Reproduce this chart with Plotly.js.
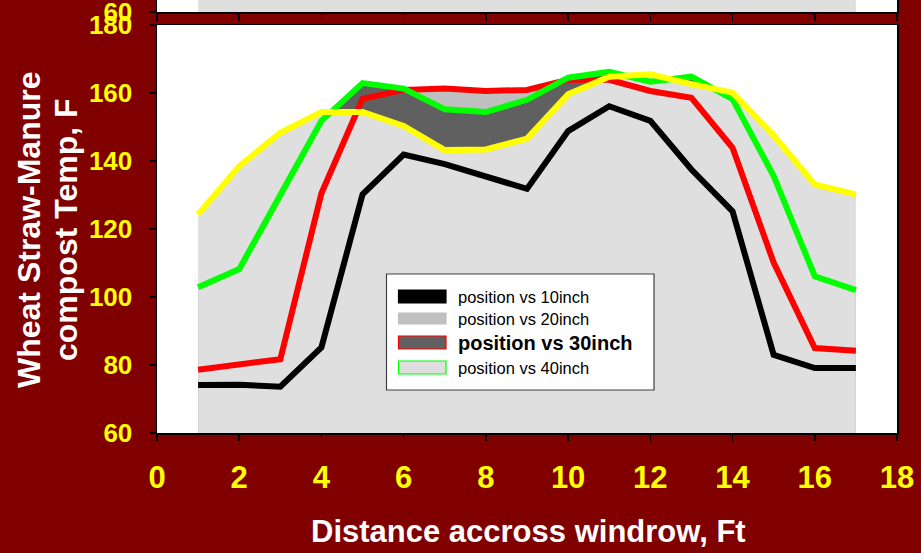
<!DOCTYPE html>
<html>
<head>
<meta charset="utf-8">
<script src="https://cdn.plot.ly/plotly-3.0.1.min.js"></script>
<style>
  html, body { margin: 0; padding: 0; background: #800000; }
  #chart { width: 921px; height: 553px; }
</style>
</head>
<body>
<div id="chart"></div>
<script>
// Distance across the windrow (ft) and compost temperature (F) at four probe depths
const distanceFt = [1, 2, 3, 4, 5, 6, 7, 8, 9, 10, 11, 12, 13, 14, 15, 16, 17];
const temp10in = [74.1, 74.2, 73.6, 85.2, 130.2, 141.9, 139.1, 135.6, 131.8, 148.8, 156.1, 151.8, 137.5, 125.2, 83.0, 79.1, 79.1];
const temp20in = [124.3, 138.5, 148.3, 154.4, 154.4, 150.3, 143.2, 143.4, 146.6, 159.6, 164.8, 165.5, 162.6, 160.1, 147.5, 133.1, 130.2];
const temp30in = [78.6, 80.0, 81.7, 130.5, 158.3, 160.9, 161.3, 160.6, 160.9, 163.9, 163.9, 160.6, 158.6, 143.9, 110.1, 85.0, 84.2];
const temp40in = [102.9, 108.2, 130.0, 151.8, 162.9, 161.3, 155.2, 154.4, 158.0, 164.5, 166.2, 163.3, 164.8, 158.2, 135.6, 106.1, 102.0];

const legendLabels = ['position vs 10inch', 'position vs 20inch', 'position vs 30inch', 'position vs 40inch'];
const xTitle = 'Distance accross windrow, Ft';
const yTitleLines = ['Wheat Straw-Manure', 'compost Temp, F'];

// page geometry (pixels)
const W = 921, H = 553, ML = 157, MR = 24, MB = 120, MT = 0;
const plotW = W - ML - MR, plotH = H - MT - MB;
const px = x => (x - ML) / plotW;          // page x -> paper x
const py = y => (H - MB - y) / plotH;      // page y -> paper y

const FONT = 'Liberation Sans, Arial, sans-serif';
const MAROON = '#800000';

function area(y, color, xa, ya) {
  return { x: distanceFt, y: y, mode: 'none', fill: 'tozeroy', fillcolor: color,
           xaxis: xa || 'x', yaxis: ya || 'y', hoverinfo: 'skip', showlegend: false };
}
function line(y, color, name) {
  return { x: distanceFt, y: y, name: name, mode: 'lines',
           line: { color: color, width: 6 }, showlegend: false };
}

const traces = [
  // lower edge of the neighbouring chart above
  area(temp20in, '#dfdfdf', 'x2', 'y2'),
  // layered fills under the profiles
  area(temp30in, '#bfbfbf'),
  area(temp40in, '#606060'),
  area(temp20in, '#dfdfdf'),
  // temperature profiles
  line(temp10in, '#000000', legendLabels[0]),
  line(temp30in, '#ff0000', legendLabels[2]),
  line(temp40in, '#00ff00', legendLabels[3]),
  line(temp20in, '#ffff00', legendLabels[1])
];

const axisCommon = {
  showline: true, linecolor: '#000', linewidth: 1.5, mirror: true,
  ticks: 'outside', tickcolor: '#000', tickwidth: 1.5,
  showgrid: false, zeroline: false, fixedrange: true,
  ticklabeloverflow: 'allow'
};

// hand-drawn legend box
const shapes = [];
const annotations = [];
const lgX0 = px(386.5), lgX1 = px(654), lgY0 = py(390), lgY1 = py(274);
shapes.push({ type: 'rect', xref: 'paper', yref: 'paper', x0: lgX0, x1: lgX1, y0: lgY0, y1: lgY1,
              fillcolor: '#ffffff', line: { color: '#404040', width: 1.2 } });
const rowsY = [296.5, 318.5, 342.5, 367.5];
const swatches = [
  { fill: '#000000', border: '#000000', half: 6.5 },
  { fill: '#c0c0c0', border: '#c0c0c0', half: 5.5 },
  { fill: '#606060', border: '#ff0000', half: 6.5 },
  { fill: '#dfdfdf', border: '#00ff00', half: 6.5 }
];
swatches.forEach((s, i) => {
  shapes.push({ type: 'rect', xref: 'paper', yref: 'paper',
                x0: px(398.5), x1: px(446), y0: py(rowsY[i] + s.half), y1: py(rowsY[i] - s.half),
                fillcolor: s.fill, line: { color: s.border, width: 1.2 } });
  const bold = i === 2;
  annotations.push({ xref: 'paper', yref: 'paper', x: px(456), y: py(rowsY[i] + 0.5),
                     xanchor: 'left', yanchor: 'middle', showarrow: false, text: legendLabels[i],
                     font: { family: FONT, size: bold ? 20 : 16.5, color: '#000', weight: bold ? 'bold' : 'normal' } });
});

// axis titles
annotations.push({ xref: 'paper', yref: 'paper', x: px(528), y: py(531), xanchor: 'center', yanchor: 'middle',
                   showarrow: false, text: xTitle,
                   font: { family: FONT, size: 31, color: '#ffffff', weight: 'bold' } });
annotations.push({ xref: 'paper', yref: 'paper', x: px(29), y: py(230), xanchor: 'center', yanchor: 'middle',
                   textangle: -90, showarrow: false, text: yTitleLines[0],
                   font: { family: FONT, size: 32, color: '#ffffff', weight: 'bold' } });
annotations.push({ xref: 'paper', yref: 'paper', x: px(66), y: py(230), xanchor: 'center', yanchor: 'middle',
                   textangle: -90, showarrow: false, text: yTitleLines[1],
                   font: { family: FONT, size: 32, color: '#ffffff', weight: 'bold' } });

const layout = {
  width: W, height: H,
  margin: { l: ML, r: MR, t: MT, b: MB, pad: 0 },
  paper_bgcolor: MAROON, plot_bgcolor: '#ffffff',
  showlegend: false,
  xaxis: Object.assign({}, axisCommon, {
    range: [0, 18], tick0: 0, dtick: 2, ticklen: 6, anchor: 'y',
    tickfont: { family: FONT, size: 31, color: '#ffff00', weight: 'bold' },
    ticklabelstandoff: 10
  }),
  yaxis: Object.assign({}, axisCommon, {
    range: [60, 180], tick0: 60, dtick: 20, ticklen: 6, anchor: 'x',
    domain: [0, py(25)],
    tickfont: { family: FONT, size: 26, color: '#ffff00', weight: 'bold' },
    ticklabelstandoff: 12
  }),
  xaxis2: Object.assign({}, axisCommon, {
    range: [0, 18], tick0: 0, dtick: 2, ticklen: 7, anchor: 'y2',
    showticklabels: false
  }),
  yaxis2: Object.assign({}, axisCommon, {
    range: [60, 60 + 12 * 120 / 408], tickvals: [60], ticklen: 6, anchor: 'x2',
    domain: [py(12), 1],
    tickfont: { family: FONT, size: 26, color: '#ffff00', weight: 'bold' },
    ticklabelstandoff: 12
  }),
  shapes: shapes,
  annotations: annotations
};

Plotly.newPlot('chart', traces, layout, { displayModeBar: false, staticPlot: true });
</script>
</body>
</html>
